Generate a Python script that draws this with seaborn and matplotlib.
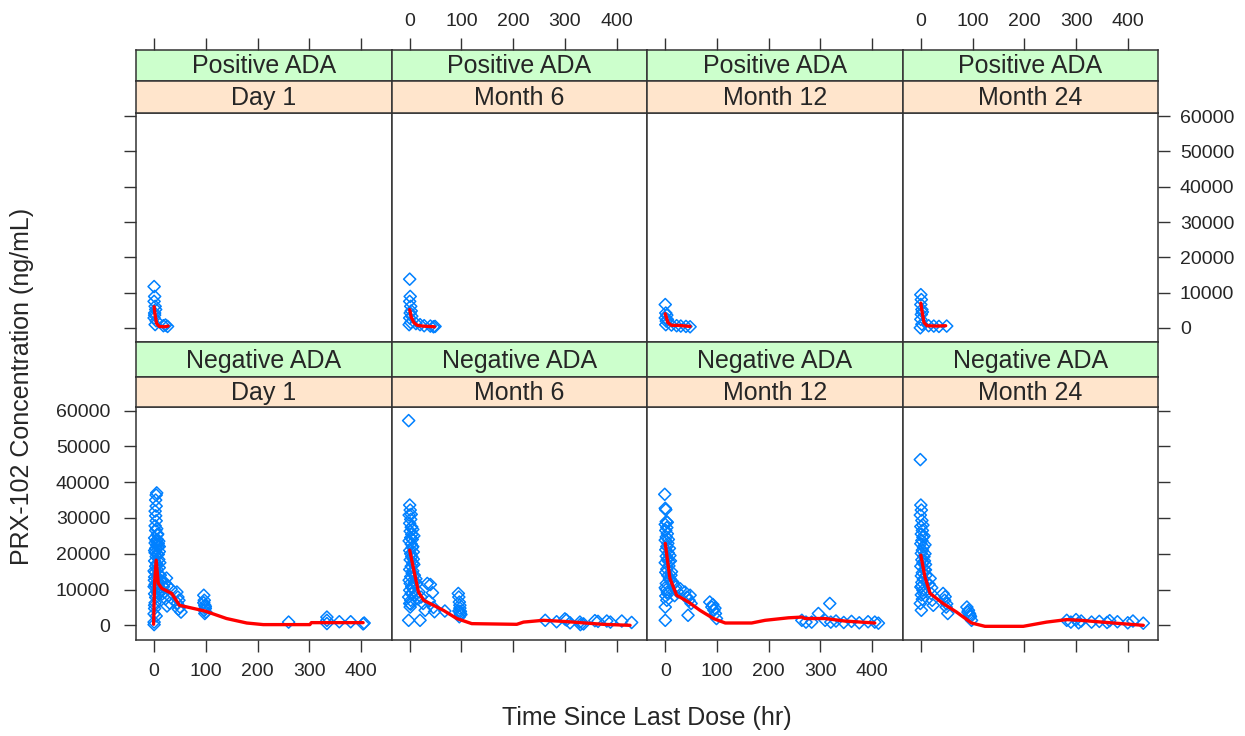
import matplotlib
matplotlib.use("Agg")
import matplotlib.pyplot as plt
import pandas as pd
import seaborn as sns

# ---- facets ---------------------------------------------------------------
visits = ["Day 1", "Month 6", "Month 12", "Month 24"]
ada_groups = ["Positive ADA", "Negative ADA"]
x_ticks = [0, 100, 200, 300, 400]
y_ticks = [0, 10000, 20000, 30000, 40000, 50000, 60000]

# ---- observed concentrations (hr since last dose, ng/mL) -------------------
pos_day1_hr = [0, 1, 0, 2, 1, 0, 2, 3, 1, 4, 26, 22, 18]
pos_day1_conc = [11700, 8900, 7500, 6100, 4200, 2800, 930, 5200, 3600, 2000, 400, 800, 600]

pos_m6_hr = [0, 1, 0, 2, 1, 0, 2, 3, -1, 4, 20, 28, 40, 49, 46, 12]
pos_m6_conc = [13800, 8900, 7500, 6100, 4200, 2800, 1500, 4800, 900, 3300, 900, 600, 500, 400, 300, 1200]

pos_m12_hr = [0, 1, 0, 2, 3, 1, 4, 22, 30, 40, 48, 12]
pos_m12_conc = [6600, 4200, 2800, 1900, 3600, 900, 2400, 600, 500, 400, 300, 800]

pos_m24_hr = [0, 1, 0, 2, 1, 0, 2, -1, 3, 15, 25, 35, 50]
pos_m24_conc = [9400, 8000, 6600, 5200, 3800, 2400, 1000, 0, 4500, 600, 500, 400, 500]

neg_day1_hr = [0, 0, 0, 1, 1, 2, 0.5, 2, 3, 1, 4, 2, 3, 5, 4, 1, 6, 3, 2, 4,
               3, 2, 4, 3, 4, 5, 5, 6, 7, 8, 7, 9, 10, 6, 8, 9, 5, 3, 2, 1,
               4, 0, 0, 1, 2, 6, 8, 10, 8, 10, 12, 11, 9, 7, 5, 6, 10, 3, 7, 1,
               12, 15, 18, 20, 22, 24, 26, 28, 30, 25, 33, 16, 21,
               44, 46, 48, 50, 52, 47, 45,
               96, 97, 98, 99, 100, 98, 97, 96, 99,
               260, 334, 334, 334, 358, 380, 406, 404]
neg_day1_conc = [200, 900, 3200, 5600, 8800, 11400, 12600, 14800, 16500, 18000,
                 19200, 20300, 21500, 22400, 23600, 24400, 25300, 26500, 27800, 29200,
                 30600, 31900, 33300, 35000, 36400, 37000, 17200, 15600, 13300, 19800,
                 21900, 18400, 16100, 12000, 10200, 14200, 9500, 7800, 6300, 4700,
                 2600, 10800, 15200, 20900, 23000, 24000, 22800, 20600, 11000, 9000,
                 12500, 17500, 23500, 25500, 27000, 20000, 22000, 11000, 9000, 13500,
                 14000, 12400, 10800, 9200, 7400, 13200, 11000, 8300, 6200, 5400, 10100, 8800, 11900,
                 9300, 7900, 7000, 5100, 3700, 4500, 6200,
                 8400, 7000, 5600, 4700, 3700, 3300, 4200, 6300, 5200,
                 900, 2300, 1400, 500, 1000, 1000, 650, 400]

neg_m6_hr = [-2, 0, 1, -1, 2, 0, 3, 1, 4, 2, -1, 3, 5, 0, 2, 4, 1, 6, 3, 0,
             5, 2, -1, 1, 4, 0, 3, -2, 2, 0, 1, 5, 7, 8, 9, 6, -2, 20,
             6, 8, 4, 7, 3, 9, 5, 10, 2, 6,
             14, 18, 22, 26, 30, 34, 40, 44, 46, 48, 38, 12, 16,
             68, 94, 95, 96, 97, 98, 96, 95, 97, 98, 99,
             262, 284, 303, 310, 329, 336, 358, 364, 381, 388, 410, 429, 300, 330]
neg_m6_conc = [57200, 33600, 32200, 30800, 29600, 28500, 27400, 26300, 25400, 24500,
               23600, 22700, 21800, 20900, 20000, 19200, 18300, 17400, 16500, 15600,
               14500, 13600, 12600, 11700, 10800, 9800, 8900, 7900, 7000, 6100,
               5100, 24000, 20500, 17000, 14000, 26800, 1400, 1400,
               22000, 25000, 27500, 18500, 31000, 12000, 10500, 8500, 5900, 15200,
               11700, 9300, 7900, 6100, 4200, 11700, 11400, 9100, 5000, 3800, 6800, 13000, 7400,
               4000, 8900, 7900, 6500, 4800, 3300, 2400, 4000, 5600, 3900, 3000,
               1400, 1000, 1500, 700, 900, 400, 1300, 1100, 1200, 900, 1200, 800, 1800, 200]

neg_m12_hr = [-1, 0, 1, 2, 0, 3, 1, 4, 2, 0, 5, 3, 1, 6, 2, 4, 0, 7, 3, 1,
              5, 8, 2, 0, 4, 1, 3, 0, 0, 10, 12, 9,
              6, 8, 4, 7, 2, 9, 5, 11,
              16, 20, 24, 29, 18, 14,
              38, 42, 46, 50, 44, 48,
              86, 90, 94, 97, 99, 92, 96,
              264, 272, 283, 296, 318, 309, 320, 330, 345, 360, 375, 392, 405, 412]
neg_m12_conc = [36600, 32700, 32300, 29000, 28200, 27300, 26500, 25600, 24700, 23800,
                22900, 22000, 21100, 20200, 19300, 18400, 17500, 16600, 15700, 14800,
                13900, 12900, 11700, 10500, 9300, 8200, 7000, 5100, 1400, 18000, 15000, 13000,
                24000, 21500, 28800, 17800, 10000, 19500, 8800, 14000,
                11700, 10700, 9300, 10200, 8300, 12200,
                9300, 7900, 7000, 6100, 2800, 8400,
                6500, 5100, 4200, 3300, 1900, 5800, 4800,
                1400, 900, 900, 3300, 6100, 1400, 900, 1200, 800, 1100, 700, 1000, 900, 600]

neg_m24_hr = [-1, 0, 1, -1, 2, 0, 3, 1, 4, 2, 0, 5, 3, 1, 6, 2, 4, 0, 7, 3,
              1, 5, 2, 0, 4, 1, 3, -1, 1, 8, 9, 10,
              6, 8, 4, 7, 2, 9, 5, 11,
              18, 20, 22, 24, 21, 16,
              43, 46, 49, 52, 47, 50,
              89, 92, 94, 96, 98, 91, 95,
              282, 290, 300, 305, 310, 330, 345, 360, 365, 380, 400, 410, 430]
neg_m24_conc = [46300, 33600, 32200, 30800, 29300, 27600, 26500, 25500, 24600, 23700,
                22800, 21900, 21000, 20100, 19200, 18300, 17400, 16500, 15600, 14700,
                13800, 12900, 12000, 10700, 9800, 8500, 7300, 6100, 4200, 22500, 17000, 14000,
                25000, 20000, 28000, 18000, 11000, 15500, 9000, 12000,
                13100, 8900, 7000, 5600, 10500, 11500,
                8900, 7000, 5100, 3300, 8000, 6000,
                5100, 4200, 3300, 2400, 1400, 3700, 2800,
                1400, 900, 1600, 700, 1200, 900, 1100, 800, 1300, 1000, 700, 1200, 600]

# ---- smoothed trend per panel -----------------------------------------------
pos_day1_fit_hr = [0, 2, 5, 10, 20, 27]
pos_day1_fit_conc = [6000, 3500, 1200, 400, 300, 500]
pos_m6_fit_hr = [0, 3, 8, 15, 25, 48]
pos_m6_fit_conc = [5200, 3000, 1500, 700, 500, 300]
pos_m12_fit_hr = [0, 5, 12, 25, 48]
pos_m12_fit_conc = [4000, 1500, 700, 700, 400]
pos_m24_fit_hr = [0, 2, 6, 12, 30, 48]
pos_m24_fit_conc = [7000, 5000, 1500, 600, 500, 600]

neg_day1_fit_hr = [-1, 1, 4, 8, 15, 34, 49, 98, 140, 179, 211, 301, 304, 404]
neg_day1_fit_conc = [300, 12000, 18200, 11700, 10300, 8900, 5600, 4000, 1900, 650, 200, 200, 750, 750]
neg_m6_fit_hr = [0, 8, 17, 27, 46, 65, 91, 120, 207, 220, 258, 297, 374, 426]
neg_m6_fit_conc = [21000, 15400, 9300, 7000, 5600, 4200, 1900, 470, 280, 900, 1400, 1100, 280, 0]
neg_m12_fit_hr = [0, 9, 22, 45, 67, 93, 116, 167, 193, 238, 264, 270, 309, 347, 405]
neg_m12_fit_conc = [22900, 13100, 8400, 6500, 4200, 1900, 650, 650, 1400, 2100, 2300, 1900, 1900, 1200, 650]
neg_m24_fit_hr = [0, 8, 18, 43, 69, 98, 124, 198, 243, 282, 308, 372, 430]
neg_m24_fit_conc = [19600, 13500, 8900, 6100, 3700, 650, -280, -280, 900, 1600, 1400, 650, 0]

obs_sets = {
    ("Positive ADA", "Day 1"): (pos_day1_hr, pos_day1_conc),
    ("Positive ADA", "Month 6"): (pos_m6_hr, pos_m6_conc),
    ("Positive ADA", "Month 12"): (pos_m12_hr, pos_m12_conc),
    ("Positive ADA", "Month 24"): (pos_m24_hr, pos_m24_conc),
    ("Negative ADA", "Day 1"): (neg_day1_hr, neg_day1_conc),
    ("Negative ADA", "Month 6"): (neg_m6_hr, neg_m6_conc),
    ("Negative ADA", "Month 12"): (neg_m12_hr, neg_m12_conc),
    ("Negative ADA", "Month 24"): (neg_m24_hr, neg_m24_conc),
}
fit_sets = {
    ("Positive ADA", "Day 1"): (pos_day1_fit_hr, pos_day1_fit_conc),
    ("Positive ADA", "Month 6"): (pos_m6_fit_hr, pos_m6_fit_conc),
    ("Positive ADA", "Month 12"): (pos_m12_fit_hr, pos_m12_fit_conc),
    ("Positive ADA", "Month 24"): (pos_m24_fit_hr, pos_m24_fit_conc),
    ("Negative ADA", "Day 1"): (neg_day1_fit_hr, neg_day1_fit_conc),
    ("Negative ADA", "Month 6"): (neg_m6_fit_hr, neg_m6_fit_conc),
    ("Negative ADA", "Month 12"): (neg_m12_fit_hr, neg_m12_fit_conc),
    ("Negative ADA", "Month 24"): (neg_m24_fit_hr, neg_m24_fit_conc),
}

obs = pd.concat([pd.DataFrame({"ada": k[0], "visit": k[1], "hr": v[0], "conc": v[1]})
                 for k, v in obs_sets.items()], ignore_index=True)
fit = pd.concat([pd.DataFrame({"ada": k[0], "visit": k[1], "hr": v[0], "conc": v[1]})
                 for k, v in fit_sets.items()], ignore_index=True)

# ---- style ------------------------------------------------------------------
sns.set_style("white")
plt.rcParams["font.family"] = ["Liberation Sans", "DejaVu Sans"]
TXT = "#262626"
EDGE = "#333333"
STRIP_TOP = "#ccffcc"
STRIP_BOT = "#ffe5cc"
PT_COLOR = "#0080ff"
TICK_FS = 14
STRIP_FS = 18
LAB_FS = 18
TICK_LEN = 8.6

W, H = 1245, 736
fig = plt.figure(figsize=(W / 100, H / 100), dpi=100)


def box(px_left, py_top, px_w, px_h):
    return [px_left / W, 1 - (py_top + px_h) / H, px_w / W, px_h / H]


COL_LEFT = 136.0
COL_W = (1158.3 - 136.0) / 4
# (green strip top, peach strip top, panel top, panel bottom) in pixels
ROWS = [(50.0, 80.7, 112.7, 342.3), (342.3, 376.7, 407.0, 640.0)]
XLIM = (-35, 459)
YLIM = (-4100, 61000)


def style_frame(ax):
    for s in ax.spines.values():
        s.set_color(EDGE)
        s.set_linewidth(1.1)
        s.set_visible(True)


for r, ada in enumerate(ada_groups):
    g_top, p_top, pan_top, pan_bot = ROWS[r]
    for c, visit in enumerate(visits):
        x0 = COL_LEFT + c * COL_W
        ax = fig.add_axes(box(x0, pan_top, COL_W, pan_bot - pan_top))
        sub = obs[(obs.ada == ada) & (obs.visit == visit)]
        sns.scatterplot(data=sub, x="hr", y="conc", ax=ax, marker="D", s=38,
                        color=PT_COLOR, facecolor="none", edgecolor=PT_COLOR,
                        linewidth=1.1, zorder=2)
        fsub = fit[(fit.ada == ada) & (fit.visit == visit)]
        sns.lineplot(data=fsub, x="hr", y="conc", ax=ax, color="red", linewidth=2.4,
                     estimator=None, sort=False, zorder=3)
        ax.set_xlim(*XLIM)
        ax.set_ylim(*YLIM)
        ax.set_xlabel("")
        ax.set_ylabel("")
        ax.set_xticks(x_ticks)
        ax.set_yticks(y_ticks)
        ax.set_xticklabels([str(v) for v in x_ticks])
        ax.set_yticklabels([str(v) for v in y_ticks])
        style_frame(ax)
        ax.tick_params(direction="out", length=TICK_LEN, width=1.0, color=EDGE,
                       labelsize=TICK_FS, labelcolor=TXT)
        # x ticks: bottom of lower row, labels alternate
        if r == 1:
            ax.tick_params(axis="x", bottom=True, top=False,
                           labelbottom=(c % 2 == 0), labeltop=False, pad=8)
        else:
            ax.tick_params(axis="x", bottom=False, top=False,
                           labelbottom=False, labeltop=False)
        # y ticks: outer columns only, labels alternate between rows
        ax.tick_params(axis="y", left=(c == 0), right=(c == 3),
                       labelleft=(c == 0 and r == 1), labelright=(c == 3 and r == 0))
        if c == 0:
            ax.tick_params(axis="y", which="both", pad=10)
        if c == 3:
            ax.yaxis.set_tick_params(pad=7)

        # strips
        for (top, bot, col, label) in [(g_top, p_top, STRIP_TOP, ada),
                                       (p_top, pan_top, STRIP_BOT, visit)]:
            sax = fig.add_axes(box(x0, top, COL_W, bot - top))
            sax.set_facecolor(col)
            sax.set_xlim(*XLIM)
            sax.set_ylim(0, 1)
            sax.set_yticks([])
            style_frame(sax)
            sax.text(0.5, 0.47, label, transform=sax.transAxes, ha="center",
                     va="center", fontsize=STRIP_FS, color=TXT)
            if r == 0 and col == STRIP_TOP:
                sax.set_xticks(x_ticks)
                sax.set_xticklabels([str(v) for v in x_ticks])
                sax.tick_params(axis="x", direction="out", length=TICK_LEN, width=1.0,
                                color=EDGE, labelsize=TICK_FS, labelcolor=TXT,
                                top=True, bottom=False, labeltop=(c % 2 == 1),
                                labelbottom=False, pad=6)
            else:
                sax.set_xticks([])

fig.text(647 / W, 1 - 718 / H, "Time Since Last Dose (hr)", ha="center", va="center",
         fontsize=LAB_FS, color=TXT)
fig.text(22 / W, 1 - 386 / H, "PRX-102 Concentration (ng/mL)", ha="center",
         va="center", rotation=90, fontsize=LAB_FS, color=TXT)

fig.savefig("out.png", dpi=100)
